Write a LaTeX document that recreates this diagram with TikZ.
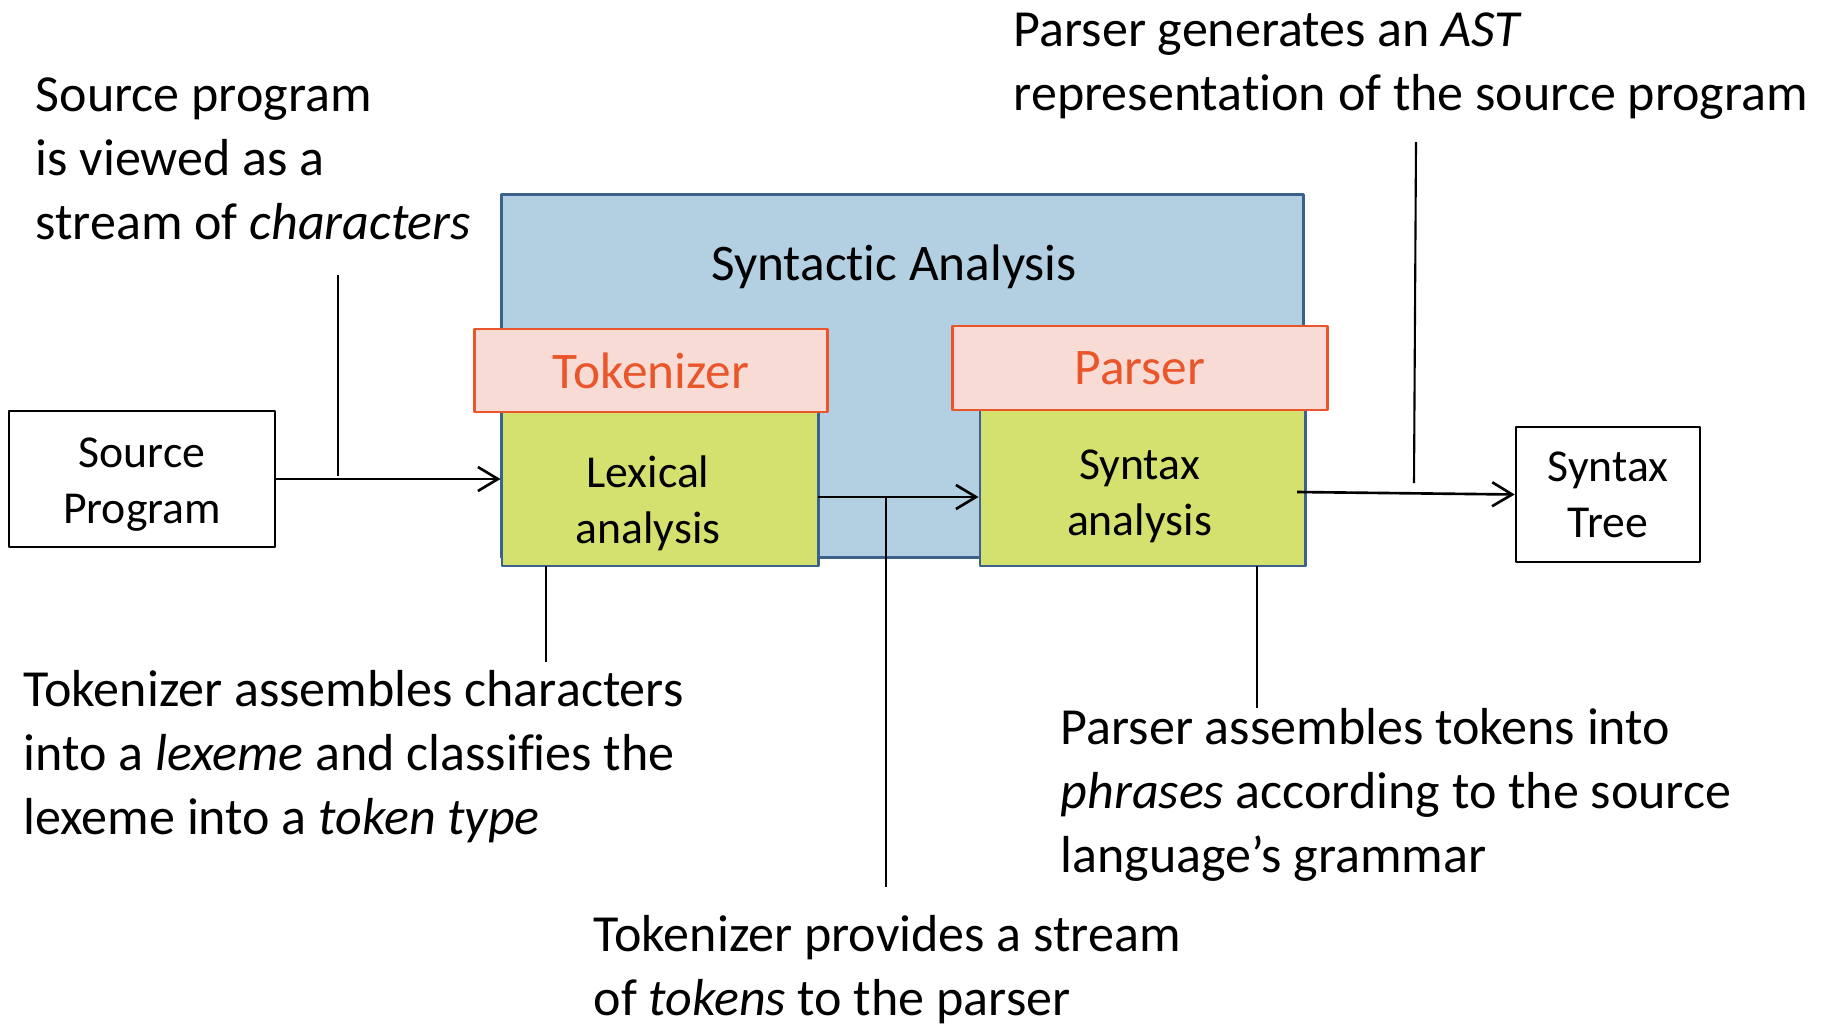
\documentclass[tikz,border=0pt]{standalone}
\usepackage{fontspec}
\setmainfont{Carlito}[Ligatures=CommonOff]
\usetikzlibrary{arrows.meta}
\definecolor{boxblue}{RGB}{178,208,225}
\definecolor{edgeblue}{RGB}{60,98,140}
\definecolor{tokfill}{RGB}{248,219,212}
\definecolor{tokedge}{RGB}{233,86,43}
\definecolor{lexgreen}{RGB}{213,225,111}
\begin{document}
\begin{tikzpicture}[x=0.01cm, y=-0.01cm, line join=round, >={Straight Barb[length=2mm,width=2.4mm]},
	note/.style={anchor=west, align=left, inner sep=0pt, font=\fontsize{14.8}{18.2}\selectfont},
	boxtext/.style={align=center, font=\fontsize{13}{15.9}\selectfont},
	plainbox/.style={draw=black, line width=0.7pt},
	stagebox/.style={draw=edgeblue, line width=0.8pt, fill=lexgreen},
	namebox/.style={draw=tokedge, line width=0.8pt, fill=tokfill, text=tokedge, font=\fontsize{14.6}{17.8}\selectfont},
	flow/.style={->, line width=0.75pt},
	pointer/.style={line width=0.6pt}]
	\useasboundingbox (0,0) rectangle (1821,1027);
	% outer box
	\node[draw=edgeblue, line width=0.8pt, fill=boxblue, minimum width=8.01cm, minimum height=3.62cm] (syntactic) at (902.5,376) {};
	\node[font=\fontsize{14.6}{17.8}\selectfont] (title) at (894,267) {Syntactic Analysis};
	% stages
	\node[stagebox, minimum width=3.16cm, minimum height=1.54cm] (lex) at (660,489) {};
	\node[stagebox, minimum width=3.25cm, minimum height=1.56cm] (syn) at (1142.5,488) {};
	\node[boxtext] (lextext) at ([shift={(-12,14)}]lex.center) {Lexical\\analysis};
	\node[boxtext] (syntext) at ([shift={(-3,8)}]syn.center) {Syntax\\analysis};
	\node[namebox, minimum width=3.52cm, minimum height=0.83cm] (tok) at (651,370.5) {Tokenizer};
	\node[namebox, minimum width=3.74cm, minimum height=0.84cm] (par) at (1140,368) {Parser};
	% input and output
	\node[plainbox, minimum width=2.66cm, minimum height=1.36cm] (src) at (142,479) {};
	\node[plainbox, minimum width=1.84cm, minimum height=1.35cm] (tree) at (1608,494.5) {};
	\node[boxtext] (srctext) at ([shift={(0,6)}]src.center) {Source\\Program};
	\node[boxtext] (treetext) at (tree.center) {Syntax\\Tree};
	\draw[flow] (src.east) -- (src.east -| lex.west);
	\draw[flow] (818,497) -- (syn.west |- 0,497);
	\draw[flow] (1297,492) -- (tree.west);
	% notes
	\node[note] (srcnote) at (35,159) {Source program\\is viewed as a\\stream of \textit{characters}};
	\node[note] (astnote) at (1013,66) {Parser generates an \textit{AST}\\representation of the source program};
	\node[note] (toknote) at (23,757) {Tokenizer assembles characters\\into a \textit{lexeme} and classifies the\\lexeme into a \textit{token type}};
	\node[note] (parnote) at (1060,795) {Parser assembles tokens into\\\textit{phrases} according to the source\\language’s grammar};
	\node[note] (streamnote) at (593,970) {Tokenizer provides a stream\\of \textit{tokens} to the parser};
	% pointers
	\coordinate (p1a) at (338,275); \coordinate (p1b) at (338,476);
	\coordinate (p2a) at (546,566); \coordinate (p2b) at (546,662);
	\coordinate (p3a) at (886,497); \coordinate (p3b) at (886,887);
	\coordinate (p4a) at (1257,566); \coordinate (p4b) at (1257,708);
	\coordinate (p5a) at (1416,142); \coordinate (p5b) at (1414,483);
	\draw[pointer] (p1a) -- (p1b);
	\draw[pointer] (p2a) -- (p2b);
	\draw[pointer] (p3a) -- (p3b);
	\draw[pointer] (p4a) -- (p4b);
	\draw[pointer] (p5a) -- (p5b);
\end{tikzpicture}
\end{document}
